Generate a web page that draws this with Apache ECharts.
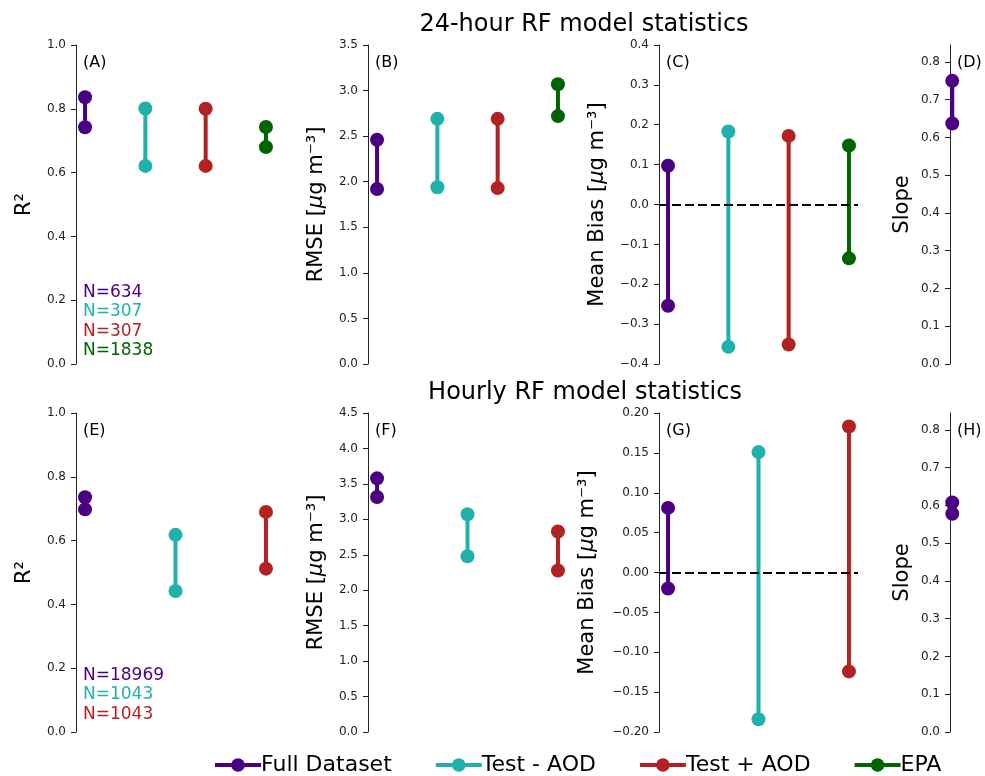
<!DOCTYPE html>
<html>
<head>
<meta charset="utf-8">
<script src="https://cdn.jsdelivr.net/npm/echarts@6/dist/echarts.min.js"></script>
<style>
  html, body { margin: 0; padding: 0; background: #fff; }
  #main { width: 985px; height: 776px; }
</style>
</head>
<body>
<div id="main"></div>
<script>
// groups (legend entries) and their colours
var groups = ['Full Dataset', 'Test - AOD', 'Test + AOD', 'EPA'];
var colors = ['#4b0082', '#20b2aa', '#b22222', '#006400'];

// 24-hour model stats, [low, high] per group
var dailyR2 = [[0.742, 0.836], [0.621, 0.801], [0.621, 0.800], [0.680, 0.743]];
var dailyRmse = [[1.92, 2.46], [1.94, 2.69], [1.93, 2.69], [2.72, 3.07]];
var dailyBias = [[-0.254, 0.097], [-0.357, 0.183], [-0.351, 0.172], [-0.135, 0.148]];
var dailySlope = [[0.637, 0.750]];
var dailyN = [634, 307, 307, 1838];

// hourly model stats
var hourlyR2 = [[0.698, 0.736], [0.442, 0.618], [0.512, 0.690]];
var hourlyRmse = [[3.316, 3.578], [2.48, 3.071], [2.278, 2.828]];
var hourlyBias = [[-0.020, 0.081], [-0.184, 0.151], [-0.124, 0.183]];
var hourlySlope = [[0.578, 0.608]];
var hourlyN = [18969, 1043, 1043];

var titles = ['24-hour RF model statistics', 'Hourly RF model statistics'];
var panelLetters = ['(A)', '(B)', '(C)', '(D)', '(E)', '(F)', '(G)', '(H)'];

var FONT = 'DejaVu Sans';
var unitName = '[{it|μ}g m⁻³]';

var panels = [
    {data: dailyR2, ncat: 4, min: 0, max: 1, interval: 0.2, dec: 1, name: 'R²', gap: 41},
    {data: dailyRmse, ncat: 4, min: 0, max: 3.5, interval: 0.5, dec: 1, name: 'RMSE ' + unitName, gap: 41},
    {data: dailyBias, ncat: 4, min: -0.4, max: 0.4, interval: 0.1, dec: 1, name: 'Mean Bias ' + unitName, gap: 51, zero: true},
    {data: dailySlope, ncat: 4, min: 0, max: 0.845, interval: 0.1, dec: 1, name: 'Slope', gap: 37, custom: true},
    {data: hourlyR2, ncat: 3, min: 0, max: 1, interval: 0.2, dec: 1, name: 'R²', gap: 41},
    {data: hourlyRmse, ncat: 3, min: 0, max: 4.5, interval: 0.5, dec: 1, name: 'RMSE ' + unitName, gap: 41},
    {data: hourlyBias, ncat: 3, min: -0.2, max: 0.2, interval: 0.05, dec: 2, name: 'Mean Bias ' + unitName, gap: 61, zero: true},
    {data: hourlySlope, ncat: 3, min: 0, max: 0.845, interval: 0.1, dec: 1, name: 'Slope', gap: 37, custom: true}
];

var lefts = [76, 368, 659, 950];
var tops = [45, 413];
var W = 199, H = 319;

function fmt(dec) {
    return function(v) {
        var s = Math.abs(v).toFixed(dec);
        return (v < -1e-9 ? '\u2212' : '') + s;
    };
}

var grid = [], xAxis = [], yAxis = [], series = [], graphic = [];

panels.forEach(function(p, i) {
    var row = Math.floor(i / 4), col = i % 4;
    grid.push({left: lefts[col], top: tops[row], width: W, height: H});
    var pad = p.ncat == 4 ? 0.15 : 0.1;
    xAxis.push({type: 'value', gridIndex: i, min: -pad, max: p.ncat - 1 + pad, show: false});

    var ticks = [];
    for (var v = p.min; v <= 0.8 + 1e-9; v += p.interval) ticks.push(+v.toFixed(3));

    var ya = {
        type: 'value', gridIndex: i, min: p.min, max: p.max, interval: p.interval,
        name: p.name, nameLocation: 'middle', nameGap: p.gap,
        nameTextStyle: {fontFamily: FONT, fontSize: 21, color: '#000',
            rich: {it: {fontFamily: FONT, fontSize: 21, fontStyle: 'italic', color: '#000'}}},
        splitLine: {show: false},
        axisLine: {show: true, onZero: false, lineStyle: {color: '#222', width: 1}},
        axisTick: {show: true, length: 5, lineStyle: {color: '#222'}},
        axisLabel: {fontFamily: FONT, fontSize: 12, color: '#222', margin: 10, formatter: fmt(p.dec)}
    };
    if (p.custom) {
        ya.axisTick.customValues = ticks;
        ya.axisLabel.customValues = ticks;
    }
    yAxis.push(ya);

    p.data.forEach(function(d, g) {
        var s = {
            type: 'line', name: groups[g], xAxisIndex: i, yAxisIndex: i,
            data: [[g, d[0]], [g, d[1]]],
            symbol: 'circle', symbolSize: 14, showSymbol: true,
            lineStyle: {width: 4, color: colors[g]},
            itemStyle: {color: colors[g]},
            silent: true, z: 3
        };
        if (p.zero && g == 0) {
            s.markLine = {
                silent: true, symbol: 'none', label: {show: false}, z: 10,
                lineStyle: {color: '#000', width: 2, type: [9, 4]},
                data: [{yAxis: 0}]
            };
        }
        series.push(s);
    });

    graphic.push({
        type: 'text', left: lefts[col] + 7, top: tops[row] + 10,
        style: {text: panelLetters[i], font: '16px "DejaVu Sans"', fill: '#000'}
    });
});

// N counts under R² panels
[[dailyN, 284], [hourlyN, 667]].forEach(function(item) {
    item[0].forEach(function(n, g) {
        graphic.push({
            type: 'text', left: 83, top: item[1] + g * 19.5,
            style: {text: 'N=' + n, font: '17px "DejaVu Sans"', fill: colors[g]}
        });
    });
});

var option = {
    animation: false,
    backgroundColor: '#fff',
    title: [
        {text: titles[0], left: 579, top: 8, textAlign: 'center',
            textStyle: {fontFamily: FONT, fontSize: 24, fontWeight: 'normal', color: '#000'}},
        {text: titles[1], left: 580, top: 376, textAlign: 'center',
            textStyle: {fontFamily: FONT, fontSize: 24, fontWeight: 'normal', color: '#000'}}
    ],
    legend: {
        data: groups, left: 208, top: 749, itemWidth: 46, itemHeight: 17, itemGap: 42,
        lineStyle: {width: 4},
        textStyle: {fontFamily: FONT, fontSize: 22, color: '#000', padding: [0, 0, 0, -5]},
        selectedMode: false
    },
    grid: grid, xAxis: xAxis, yAxis: yAxis, series: series, graphic: graphic
};

var chart = echarts.init(document.getElementById('main'));
chart.setOption(option);
</script>
</body>
</html>
